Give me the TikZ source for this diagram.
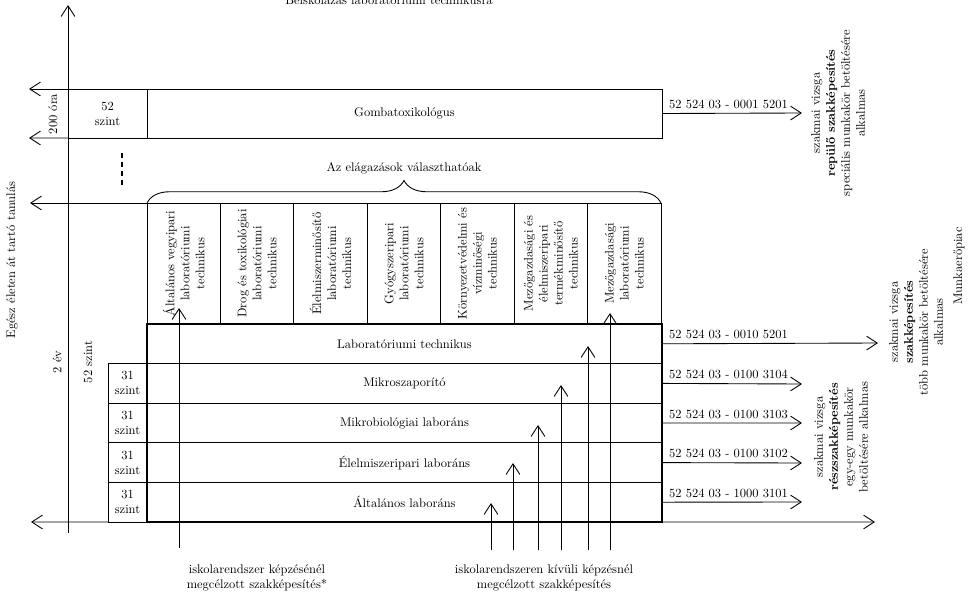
\documentclass[tikz,border=0pt]{standalone}
\usepackage{fontspec}
\usepackage{tikz}
\usetikzlibrary{positioning, arrows.meta, decorations.pathreplacing, shapes}
\tikzstyle{sor} = [rectangle, minimum width=412pt, minimum height=31.68pt, inner sep=0pt, outer sep=0pt, text centered, draw=black]
\tikzstyle{szint} = [rectangle, minimum width=31.2pt, minimum height=31.68pt, inner sep=0pt, outer sep=0pt, align=center, draw=black]
\tikzstyle{ag} = [rectangle, rotate=90, minimum width=96.8pt, minimum height=58.74pt, inner sep=1pt, outer sep=0pt, align=center, draw=black]
\tikzstyle{felirat} = [rotate=90, align=center]
\tikzstyle{arrow} = [line width=0.7pt, -{Straight Barb[length=8.5pt, width=11pt, line width=0.7pt]}]

\begin{document}
\begin{tikzpicture}[x=0.8pt, y=-0.8pt, line width=0.7pt]
            \useasboundingbox (0,0) rectangle (968,596);

            \node (cim) [anchor=base] at (389,5) {Beiskolázás laboratóriumi technikusra};

            \node (szint52) [szint, anchor=north west, minimum width=63.2pt, minimum height=39.2pt] at (68,89) {52\\szint};
            \node (gomba) [sor, minimum height=39.2pt, right=0pt of szint52] {Gombatoxikológus};

            \node (ag1) [ag] at (183.7,263.5) {Általános vegyipari\\laboratóriumi\\technikus};
            \node (ag2) [ag] at (257.1,263.5) {Drog és toxikológiai\\laboratóriumi\\technikus};
            \node (ag3) [ag] at (330.6,263.5) {Élelmiszerminősítő\\laboratóriumi\\technikus};
            \node (ag4) [ag] at (404.0,263.5) {Gyógyszeripari\\laboratóriumi\\technikus};
            \node (ag5) [ag] at (477.4,263.5) {Környezetvédelmi és\\vízminőségi\\technikus};
            \node (ag6) [ag] at (550.9,263.5) {Mezőgazdasági és\\élelmiszeripari\\termékminősítő\\technikus};
            \node (ag7) [ag] at (624.3,263.5) {Mezőgazdasági\\laboratóriumi\\technikus};
            \coordinate (ag_bal) at (147,203);
            \coordinate (ag_jobb) at (661,203);
            \draw [decorate, decoration={brace, amplitude=18pt}] (ag_bal) -- (ag_jobb);
            \node (valaszt) at (404,168) {Az elágazások választhatóak};

            \node (lab) [sor, anchor=north west] at (147,324) {Laboratóriumi technikus};
            \node (mikro) [sor, below=0pt of lab] {Mikroszaporító};
            \node (mikrob) [sor, below=0pt of mikro] {Mikrobiológiai laboráns};
            \node (elel) [sor, below=0pt of mikrob] {Élelmiszeripari laboráns};
            \node (alt) [sor, below=0pt of elel] {Általános laboráns};
            \draw [line width=1.6pt] (lab.north west) rectangle (alt.south east);

            \node (sz_mikro) [szint, left=0pt of mikro] {31\\szint};
            \node (sz_mikrob) [szint, left=0pt of mikrob] {31\\szint};
            \node (sz_elel) [szint, left=0pt of elel] {31\\szint};
            \node (sz_alt) [szint, left=0pt of alt] {31\\szint};

            \draw [line width=2pt, dash pattern=on 4pt off 3.2pt] (122,153) -- (122,186);

            \coordinate (tengely_al) at (68,533);
            \coordinate (tengely_fel) at (68,5);
            \draw [arrow] (tengely_al) -- (tengely_fel);
            \coordinate (bal1) at (29,89);
            \coordinate (bal2) at (29,138);
            \coordinate (bal3) at (30,203);
            \coordinate (bal4) at (31,522);
            \draw [arrow] (szint52.north west) -- (bal1);
            \draw [arrow] (szint52.south west) -- (bal2);
            \draw [arrow] (ag_bal) -- (bal3);
            \draw [arrow] (sz_alt.south west) -- (bal4);

            \node (ora) [felirat] at (53,114) {200 óra};
            \node (egesz) [felirat] at (12,260) {Egész életen át tartó tanulás};
            \node (ev) [felirat] at (57,362) {2 év};
            \node (szint_bal) [felirat] at (88,362) {52 szint};

            \coordinate (gomba_ki) at (802,113);
            \coordinate (lab_ki) at (878,343);
            \coordinate (mikro_ki) at (802,384);
            \coordinate (mikrob_ki) at (802,423);
            \coordinate (elel_ki) at (802,463);
            \coordinate (alt_ki) at (802,502);
            \coordinate (also_ki) at (875,522);
            \draw [arrow] (gomba.east) -- node[anchor=south west, pos=0, xshift=2pt]{52 524 03 - 0001 5201}(gomba_ki);
            \draw [arrow] (lab.east) -- node[anchor=south west, pos=0, xshift=2pt]{52 524 03 - 0010 5201}(lab_ki);
            \draw [arrow] (mikro.east) -- node[anchor=south west, pos=0, xshift=2pt]{52 524 03 - 0100 3104}(mikro_ki);
            \draw [arrow] (mikrob.east) -- node[anchor=south west, pos=0, xshift=2pt]{52 524 03 - 0100 3103}(mikrob_ki);
            \draw [arrow] (elel.east) -- node[anchor=south west, pos=0, xshift=2pt]{52 524 03 - 0100 3102}(elel_ki);
            \draw [arrow] (alt.east) -- node[anchor=south west, pos=0, xshift=2pt]{52 524 03 - 1000 3101}(alt_ki);
            \draw [arrow] (alt.south east) -- (also_ki);

            \node (repulo) [felirat] at (838,113) {szakmai vizsga\\\textbf{repülő szakképesítés}\\speciális munkakör betöltésére\\alkalmas};
            \node (szakk) [felirat] at (916,322) {szakmai vizsga\\\textbf{szakképesítés}\\több munkakör betöltésére\\alkalmas};
            \node (reszsz) [felirat] at (841,437) {szakmai vizsga\\\textbf{részszakképesítés}\\egy-egy munkakör\\betöltésére alkalmas};
            \node (piac) [felirat] at (959,266) {Munkaerőpiac};

            \coordinate (isk_al) at (179,548);
            \coordinate (isk_fel) at (179,308);
            \draw [arrow] (isk_al) -- (isk_fel);
            \coordinate (kiv1_al) at (491,550);
            \coordinate (kiv1_fel) at (491,503);
            \coordinate (kiv2_al) at (513,550);
            \coordinate (kiv2_fel) at (513,463);
            \coordinate (kiv3_al) at (538,550);
            \coordinate (kiv3_fel) at (538,425);
            \coordinate (kiv4_al) at (561,550);
            \coordinate (kiv4_fel) at (561,385);
            \coordinate (kiv5_al) at (588,550);
            \coordinate (kiv5_fel) at (588,346);
            \coordinate (kiv6_al) at (610,550);
            \coordinate (kiv6_fel) at (610,313);
            \draw [arrow] (kiv1_al) -- (kiv1_fel);
            \draw [arrow] (kiv2_al) -- (kiv2_fel);
            \draw [arrow] (kiv3_al) -- (kiv3_fel);
            \draw [arrow] (kiv4_al) -- (kiv4_fel);
            \draw [arrow] (kiv5_al) -- (kiv5_fel);
            \draw [arrow] (kiv6_al) -- (kiv6_fel);

            \node (isk_szoveg) [align=center] at (257,578) {iskolarendszer képzésénél\\megcélzott szakképesítés*};
            \node (kiv_szoveg) [align=center] at (544,578) {iskolarendszeren kívüli képzésnél\\megcélzott szakképesítés};

            \end{tikzpicture}
\end{document}
